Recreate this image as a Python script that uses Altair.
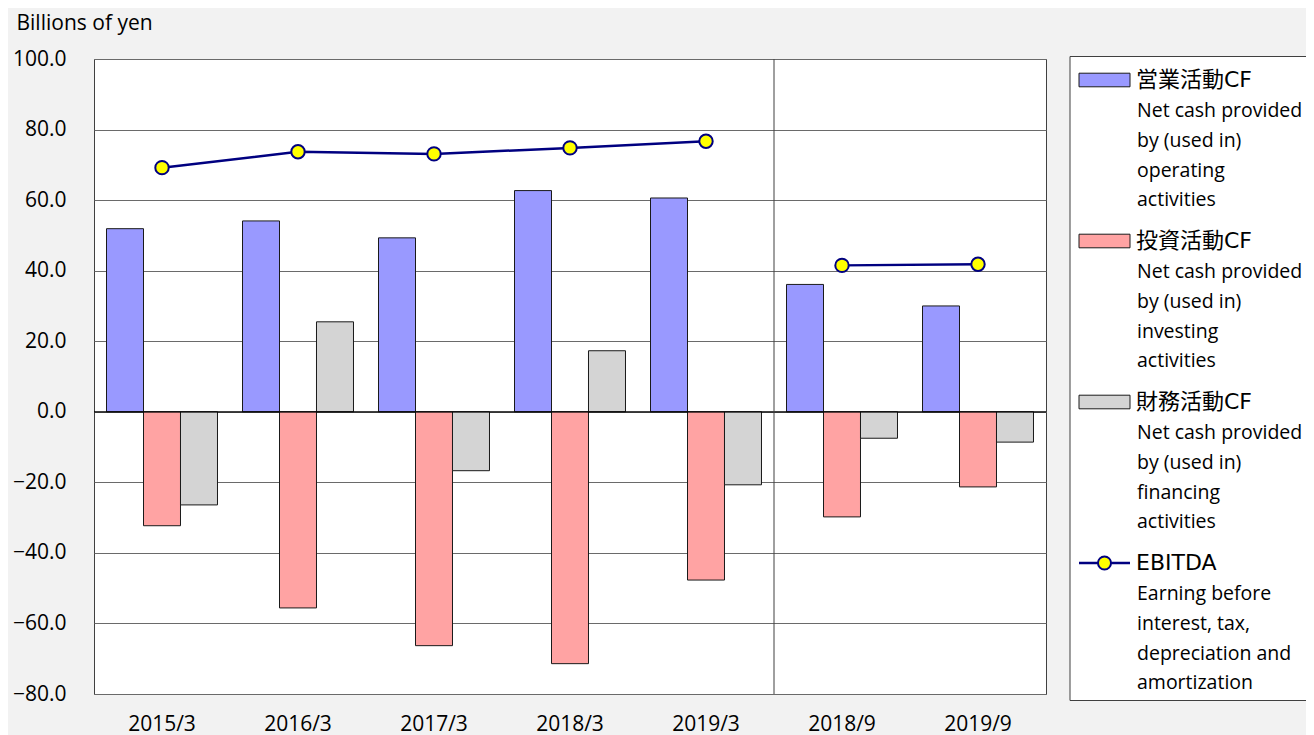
import altair as alt
import pandas as pd

# ---------------- data ----------------
categories = ["2015/3", "2016/3", "2017/3", "2018/3", "2019/3", "2018/9", "2019/9"]
periods = ["annual", "annual", "annual", "annual", "annual", "half", "half"]
operating = [51.9, 54.1, 49.3, 62.7, 60.6, 36.1, 30.0]
investing = [-32.3, -55.6, -66.3, -71.4, -47.7, -29.8, -21.3]
financing = [-26.4, 25.5, -16.7, 17.3, -20.7, -7.5, -8.6]
ebitda = [69.2, 73.7, 73.1, 74.8, 76.7, 41.5, 41.8]

series_keys = ["op", "inv", "fin"]
series_colors = ["#9999ff", "#ffa3a3", "#d4d4d4"]
y_ticks = [-80, -60, -40, -20, 0, 20, 40, 60, 80, 100]

legend_headers = ["営業活動CF", "投資活動CF", "財務活動CF", "EBITDA"]
legend_lines = [
    ["Net cash provided", "by (used in)", "operating", "activities"],
    ["Net cash provided", "by (used in)", "investing", "activities"],
    ["Net cash provided", "by (used in)", "financing", "activities"],
    ["Earning before", "interest, tax,", "depreciation and", "amortization"],
]

rows = []
for i, c in enumerate(categories):
    for key, vals in zip(series_keys, [operating, investing, financing]):
        rows.append({"cat": c, "series": key, "value": vals[i]})
bars_df = pd.DataFrame(rows)
line_df = pd.DataFrame({"cat": categories, "period": periods, "ebitda": ebitda})
one = pd.DataFrame({"k": [0]})

FONT = "Open Sans"
W, H = 952, 635

x_scale = alt.Scale(domain=categories, paddingInner=0.184, paddingOuter=0.092)
y_scale = alt.Scale(domain=[-80, 100], nice=False, zero=False)

x_enc = alt.X(
    "cat:N", scale=x_scale, sort=categories,
    axis=alt.Axis(title=None, domain=False, ticks=False, grid=False, labelAngle=0,
                  labelFont=FONT, labelFontSize=21, labelColor="#000000", labelPadding=19),
)
y_axis = alt.Axis(
    values=y_ticks, format=".1f", grid=True, gridColor="#6a6a6a", gridWidth=1,
    domain=False, ticks=False, labelFont=FONT, labelFontSize=21, labelColor="#000000",
    labelPadding=28, title="Billions of yen", titleAngle=0, titleAlign="left",
    titleBaseline="middle", titleX=-78, titleY=-36, titleFont=FONT, titleFontSize=21,
    titleFontWeight="normal", titleColor="#000000",
)

bars = alt.Chart(bars_df).mark_bar(stroke="#1a1a1a", strokeWidth=1).encode(
    x=x_enc,
    xOffset=alt.XOffset("series:N", sort=series_keys,
                        scale=alt.Scale(domain=series_keys, paddingInner=0, paddingOuter=0)),
    y=alt.Y("value:Q", scale=y_scale, axis=y_axis, stack=None),
    color=alt.Color("series:N", scale=alt.Scale(domain=series_keys, range=series_colors), legend=None),
)

zero_rule = alt.Chart(one).mark_rule(color="#000000", strokeWidth=1.2).encode(
    y=alt.datum(0, type="quantitative", scale=y_scale)
)

sep_rule = alt.Chart(one).mark_rule(color="#404040", strokeWidth=1).encode(
    x=alt.value(680), y=alt.value(0), y2=alt.value(H)
)

line = alt.Chart(line_df).mark_line(color="#000080", strokeWidth=2.5).encode(
    x=alt.X("cat:N", scale=x_scale, sort=categories),
    y=alt.Y("ebitda:Q", scale=y_scale),
    detail="period:N",
)
points = alt.Chart(line_df).mark_point(
    shape="circle", filled=True, color="#ffff00", stroke="#000080", strokeWidth=2,
    size=180, opacity=1,
).encode(
    x=alt.X("cat:N", scale=x_scale, sort=categories),
    y=alt.Y("ebitda:Q", scale=y_scale),
)

# ---------------- legend (drawn to the right of the plot) ----------------
layers = []
layers.append(
    alt.Chart(one).mark_rect(fill="#ffffff", stroke="#404040", strokeWidth=1).encode(
        x=alt.value(976), x2=alt.value(1260), y=alt.value(-2.5), y2=alt.value(641.5)
    )
)
LX0, LX1, TX = 985, 1036, 1042
for k in range(4):
    cy = 21 + 161 * k
    if k < 3:
        layers.append(
            alt.Chart(one).mark_rect(fill=series_colors[k], stroke="#1a1a1a", strokeWidth=1).encode(
                x=alt.value(LX0), x2=alt.value(LX1), y=alt.value(cy - 6.8), y2=alt.value(cy + 6.8)
            )
        )
    else:
        layers.append(
            alt.Chart(one).mark_rule(color="#000080", strokeWidth=2.5).encode(
                x=alt.value(LX0), x2=alt.value(LX1), y=alt.value(cy)
            )
        )
        layers.append(
            alt.Chart(one).mark_point(shape="circle", filled=True, color="#ffff00", stroke="#000080",
                                      strokeWidth=2, size=170, opacity=1).encode(
                x=alt.value((LX0 + LX1) / 2), y=alt.value(cy)
            )
        )
    layers.append(
        alt.Chart(one).mark_text(
            text=legend_headers[k], font="DejaVu Sans, Noto Sans CJK JP", fontSize=22,
            align="left", baseline="middle", color="#000000",
        ).encode(x=alt.value(TX), y=alt.value(cy))
    )
    layers.append(
        alt.Chart(one).mark_text(
            text=legend_lines[k], font=FONT, fontSize=19.5, lineHeight=29.8,
            align="left", baseline="alphabetic", color="#000000",
        ).encode(x=alt.value(TX + 1), y=alt.value(cy + 37))
    )

chart = alt.layer(bars, zero_rule, sep_rule, line, points, *layers).properties(
    width=W, height=H,
    background="#f2f2f2",
    autosize=alt.AutoSizeParams(type="none"),
    padding={"left": 86, "top": 51, "right": 260, "bottom": 41},
).configure_view(fill="#ffffff", stroke="#404040", strokeWidth=1)

chart.save("out.html", embed_options={"renderer": "svg", "actions": False})
